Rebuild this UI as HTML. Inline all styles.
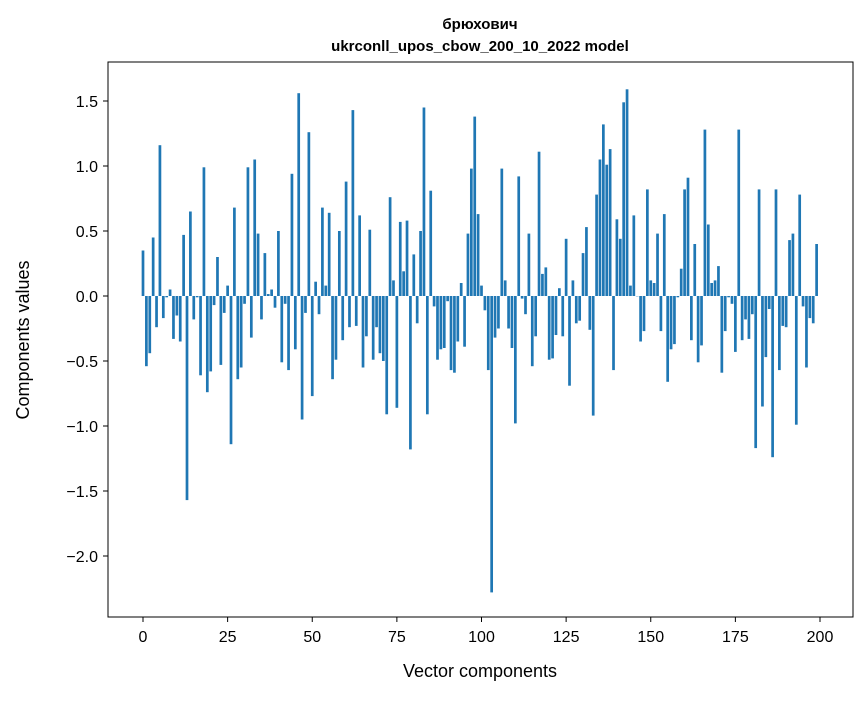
<!DOCTYPE html>
<html><head><meta charset="utf-8"><style>
body{margin:0;background:#fff;}
svg{font-family:"Liberation Sans","DejaVu Sans",sans-serif;}
</style></head><body>
<svg id="chart" width="867" height="696" viewBox="0 0 867 696">
<rect width="867" height="696" fill="#fff"/>
<text x="480" y="29" text-anchor="middle" font-size="15" font-weight="bold">брюхович</text>
<text x="480" y="51" text-anchor="middle" font-size="15" font-weight="bold">ukrconll_upos_cbow_200_10_2022 model</text>
<g id="bars"></g>
<g id="xticks"></g>
<g id="yticks"></g>
<rect x="108" y="62" width="745" height="555" fill="none" stroke="#000" stroke-width="1"/>
<text x="480" y="677" text-anchor="middle" font-size="18">Vector components</text>
<text x="29" y="340" text-anchor="middle" font-size="18" transform="rotate(-90 29 340)">Components values</text>
</svg>
<script>
const values = [0.35,-0.54,-0.44,0.45,-0.24,1.16,-0.17,-0.01,0.05,-0.33,-0.15,-0.35,0.47,-1.57,0.65,-0.18,-0.01,-0.61,0.99,-0.74,-0.58,-0.07,0.30,-0.53,-0.13,
0.08,-1.14,0.68,-0.64,-0.55,-0.06,0.99,-0.32,1.05,0.48,-0.18,0.33,0.015,0.05,-0.09,0.50,-0.51,-0.06,-0.57,0.94,-0.41,1.56,-0.95,-0.13,1.26,
-0.77,0.11,-0.14,0.68,0.08,0.64,-0.64,-0.49,0.50,-0.34,0.88,-0.24,1.43,-0.23,0.62,-0.55,-0.31,0.51,-0.49,-0.24,-0.44,-0.50,-0.91,0.76,0.12,
-0.86,0.57,0.19,0.58,-1.18,0.32,-0.21,0.50,1.45,-0.91,0.81,-0.08,-0.49,-0.41,-0.40,-0.04,-0.57,-0.59,-0.35,0.10,-0.39,0.48,0.98,1.38,0.63,
0.08,-0.11,-0.57,-2.28,-0.32,-0.25,0.98,0.12,-0.25,-0.40,-0.98,0.92,-0.02,-0.14,0.48,-0.54,-0.31,1.11,0.17,0.22,-0.49,-0.48,-0.30,0.06,-0.31,
0.44,-0.69,0.12,-0.21,-0.19,0.33,0.53,-0.26,-0.92,0.78,1.05,1.32,1.01,1.13,-0.57,0.59,0.44,1.49,1.59,0.08,0.62,0.0,-0.35,-0.27,0.82,
0.12,0.10,0.48,-0.27,0.63,-0.66,-0.41,-0.37,-0.01,0.21,0.82,0.91,-0.34,0.40,-0.51,-0.38,1.28,0.55,0.10,0.12,0.23,-0.59,-0.27,-0.01,-0.06,
-0.43,1.28,-0.34,-0.18,-0.33,-0.14,-1.17,0.82,-0.85,-0.47,-0.10,-1.24,0.82,-0.57,-0.23,-0.24,0.43,0.48,-0.99,0.78,-0.08,-0.55,-0.17,-0.21,0.40];
const xTickValues = [0,25,50,75,100,125,150,175,200];
const yTickValues = [1.5,1.0,0.5,0.0,-0.5,-1.0,-1.5,-2.0];
const yTickLabels = ["1.5","1.0","0.5","0.0","\u22120.5","\u22121.0","\u22121.5","\u22122.0"];
const NS="http://www.w3.org/2000/svg";
function xs(i){return 143+3.385*i;}
function ys(v){return 296-130*v;}
const bars=document.getElementById('bars');
values.forEach((v,i)=>{
  const r=document.createElementNS(NS,'rect');
  const x0=xs(i-0.4), x1=xs(i+0.4);
  const y0=Math.min(ys(v),ys(0)), h=Math.abs(ys(v)-ys(0));
  r.setAttribute('x',x0);r.setAttribute('width',x1-x0);
  r.setAttribute('y',y0);r.setAttribute('height',Math.max(h,0.3));
  r.setAttribute('fill','#1f77b4');
  
  
  bars.appendChild(r);
});
const xg=document.getElementById('xticks');
xTickValues.forEach(t=>{
  const l=document.createElementNS(NS,'line');
  l.setAttribute('x1',xs(t));l.setAttribute('x2',xs(t));l.setAttribute('y1',617);l.setAttribute('y2',622);l.setAttribute('stroke','#000');
  
  
  xg.appendChild(l);
  const tx=document.createElementNS(NS,'text');
  tx.setAttribute('x',xs(t));tx.setAttribute('y',642);tx.setAttribute('text-anchor','middle');tx.setAttribute('font-size','16');
  tx.textContent=String(t);
  
  
  xg.appendChild(tx);
});
const yg=document.getElementById('yticks');
yTickValues.forEach((t,k)=>{
  const l=document.createElementNS(NS,'line');
  l.setAttribute('x1',103);l.setAttribute('x2',108);l.setAttribute('y1',ys(t));l.setAttribute('y2',ys(t));l.setAttribute('stroke','#000');
  
  
  yg.appendChild(l);
  const tx=document.createElementNS(NS,'text');
  tx.setAttribute('x',98);tx.setAttribute('y',ys(t)+6);tx.setAttribute('text-anchor','end');tx.setAttribute('font-size','16');
  tx.textContent=yTickLabels[k];
  
  
  yg.appendChild(tx);
});
</script>
</body></html>
